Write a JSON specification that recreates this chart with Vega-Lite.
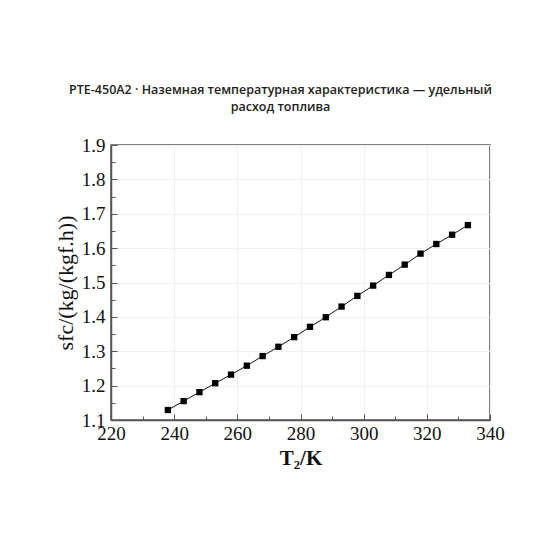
{
  "$schema": "https://vega.github.io/schema/vega-lite/v6.json",
  "width": 379,
  "height": 275,
  "autosize": {"type": "none"},
  "padding": {"left": 111, "top": 145, "right": 70, "bottom": 140},
  "background": "white",
  "title": {
    "text": ["PTE-450A2 · Наземная температурная характеристика — удельный", "расход топлива"],
    "font": "Open Sans",
    "fontSize": 12.5,
    "fontWeight": 600,
    "color": "#222222",
    "anchor": "middle",
    "dx": -20,
    "offset": 23,
    "lineHeight": 17
  },
  "config": {
    "view": {"stroke": "#555555", "strokeWidth": 1.5},
    "axis": {
      "labelFont": "Liberation Serif",
      "labelFontSize": 19,
      "labelColor": "#111111",
      "titleFont": "Liberation Serif",
      "titleColor": "#111111",
      "domainColor": "#555555",
      "domainWidth": 1.5,
      "tickColor": "#555555",
      "tickWidth": 1,
      "gridColor": "#f0f0f0",
      "gridWidth": 1
    }
  },
  "data": {
    "values": [
      {"T2": 238, "sfc": 1.129},
      {"T2": 243, "sfc": 1.155},
      {"T2": 248, "sfc": 1.181},
      {"T2": 253, "sfc": 1.207},
      {"T2": 258, "sfc": 1.232},
      {"T2": 263, "sfc": 1.258},
      {"T2": 268, "sfc": 1.286},
      {"T2": 273, "sfc": 1.313},
      {"T2": 278, "sfc": 1.341},
      {"T2": 283, "sfc": 1.371},
      {"T2": 288, "sfc": 1.399},
      {"T2": 293, "sfc": 1.430},
      {"T2": 298, "sfc": 1.461},
      {"T2": 303, "sfc": 1.491},
      {"T2": 308, "sfc": 1.522},
      {"T2": 313, "sfc": 1.552},
      {"T2": 318, "sfc": 1.584},
      {"T2": 323, "sfc": 1.612},
      {"T2": 328, "sfc": 1.639},
      {"T2": 333, "sfc": 1.667}
    ]
  },
  "encoding": {
    "x": {
      "field": "T2",
      "type": "quantitative",
      "scale": {"domain": [220, 340], "nice": false, "zero": false},
      "axis": {
        "title": "T₂/K",
        "titleFontSize": 21,
        "titleFontWeight": "bold",
        "titlePadding": 2,
        "values": [220, 230, 240, 250, 260, 270, 280, 290, 300, 310, 320, 330, 340],
        "labelExpr": "datum.value % 20 === 0 ? datum.label : ''",
        "tickSize": {"condition": {"test": "datum.value % 20 === 0", "value": -6}, "value": -4},
        "gridOpacity": {"condition": {"test": "datum.value % 20 === 0", "value": 1}, "value": 0},
        "labelPadding": 10,
        "labelFlush": false,
        "labelOverlap": false
      }
    },
    "y": {
      "field": "sfc",
      "type": "quantitative",
      "scale": {"domain": [1.1, 1.9], "nice": false, "zero": false},
      "axis": {
        "title": "sfc/(kg/(kgf.h))",
        "titleFontSize": 22,
        "titleFontWeight": "normal",
        "titlePadding": 4,
        "values": [1.1, 1.15, 1.2, 1.25, 1.3, 1.35, 1.4, 1.45, 1.5, 1.55, 1.6, 1.65, 1.7, 1.75, 1.8, 1.85, 1.9],
        "labelExpr": "round(datum.value * 100) % 10 === 0 ? format(datum.value, '.1f') : ''",
        "tickSize": {"condition": {"test": "round(datum.value * 100) % 10 === 0", "value": -6}, "value": -4},
        "gridOpacity": {"condition": {"test": "round(datum.value * 100) % 10 === 0", "value": 1}, "value": 0},
        "labelPadding": 12,
        "labelFlush": false,
        "labelOverlap": false
      }
    }
  },
  "layer": [
    {"mark": {"type": "line", "color": "#111111", "strokeWidth": 1}},
    {"mark": {"type": "point", "shape": "square", "filled": true, "color": "#000000", "opacity": 1, "size": 40}}
  ]
}
